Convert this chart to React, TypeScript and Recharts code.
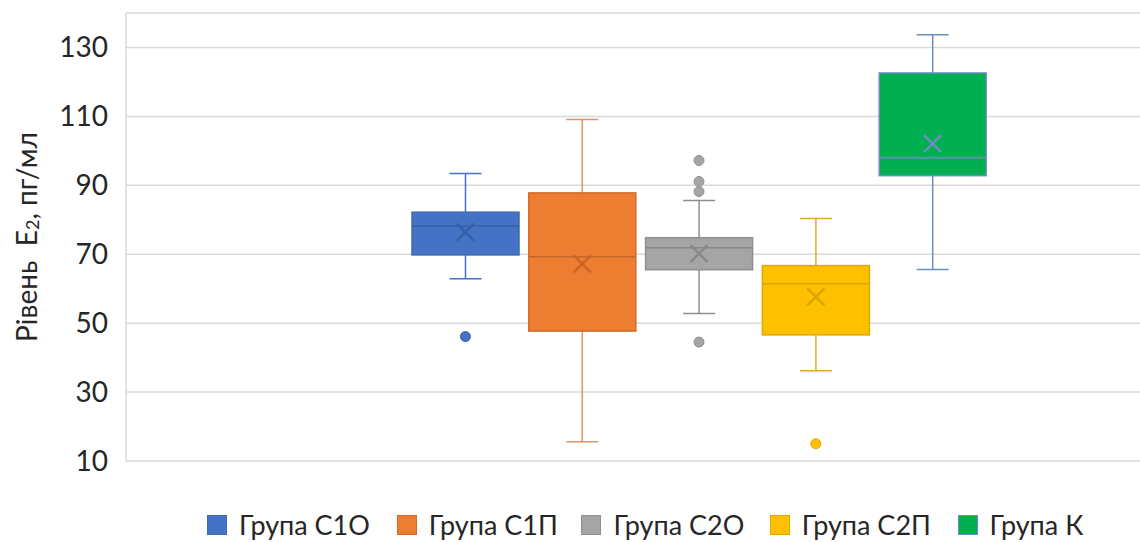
import React from 'react';
import { ComposedChart, Bar, Scatter, XAxis, YAxis, CartesianGrid, Legend, Label } from 'recharts';

const groups = ['Група С1О', 'Група С1П', 'Група С2О', 'Група С2П', 'Група К'];
const whiskerLow = [62.9, 15.6, 52.8, 36.2, 65.6];
const q1Values = [69.8, 47.7, 65.5, 46.6, 92.8];
const medianValues = [78.2, 69.3, 71.9, 61.4, 98.0];
const q3Values = [82.2, 87.8, 74.8, 66.7, 122.6];
const whiskerHigh = [93.4, 109.1, 85.6, 80.4, 133.7];
const meanValues = [76.4, 67.2, 70.2, 57.6, 102.1];
const outlierGroups = ['Група С1О', 'Група С2О', 'Група С2О', 'Група С2О', 'Група С2О', 'Група С2П'];
const outlierValues = [46.1, 97.2, 91.1, 88.2, 44.5, 15.0];
const yTicks = [10, 30, 50, 70, 90, 110, 130];

const fills = ['#4472C4', '#ED7D31', '#A5A5A5', '#FFC000', '#00B050'];
const boxStroke = ['#3F69B4', '#D5692A', '#8F8F8F', '#E0A800', '#6C8EBF'];
const whiskerStroke = ['#4472C4', '#DA9466', '#8F8F8F', '#DDAA2A', '#6C8EBF'];
const innerStroke = ['#3560A8', '#C8662A', '#888888', '#D9A300', '#6C8EBF'];
const outlierStroke = ['#3A64B0', '#D5692A', '#8F8F8F', '#E0A800', '#6C8EBF'];
const legendItemWidths = [189.7, 184.7, 188.4, 187.8, 140];

const FONT = 'Lato, "Open Sans", sans-serif';

const data = groups.map((name, i) => ({
  name,
  idx: i,
  range: [whiskerLow[i], whiskerHigh[i]],
  low: whiskerLow[i],
  high: whiskerHigh[i],
  q1: q1Values[i],
  q3: q3Values[i],
  median: medianValues[i],
  mean: meanValues[i],
}));

const outliers = outlierGroups.map((name, i) => ({
  name,
  idx: groups.indexOf(name),
  value: outlierValues[i],
}));

const BoxShape = (props: any) => {
  const { x, y, width, height, payload } = props;
  if (!payload) return null;
  const { low, high, q1, q3, median, idx } = payload;
  const py = (v: number) => y + ((high - v) / (high - low)) * height;
  const cx = x + width / 2;
  const cap = 16;
  const ws = whiskerStroke[idx];
  return (
    <g>
      <line x1={cx} x2={cx} y1={py(high)} y2={py(q3)} stroke={ws} strokeWidth={1.5} />
      <line x1={cx} x2={cx} y1={py(q1)} y2={py(low)} stroke={ws} strokeWidth={1.5} />
      <line x1={cx - cap} x2={cx + cap} y1={py(high)} y2={py(high)} stroke={ws} strokeWidth={1.5} />
      <line x1={cx - cap} x2={cx + cap} y1={py(low)} y2={py(low)} stroke={ws} strokeWidth={1.5} />
      <rect x={x} y={py(q3)} width={width} height={py(q1) - py(q3)} fill={fills[idx]} stroke={boxStroke[idx]} strokeWidth={1.5} />
      <line x1={x} x2={x + width} y1={py(median)} y2={py(median)} stroke={innerStroke[idx]} strokeWidth={1.5} />
    </g>
  );
};

const MeanShape = (props: any) => {
  const { cx, cy, payload } = props;
  if (cx == null || cy == null) return null;
  const s = 8.5;
  const c = innerStroke[payload.idx];
  return (
    <g>
      <line x1={cx - s} y1={cy - s} x2={cx + s} y2={cy + s} stroke={c} strokeWidth={2.5} />
      <line x1={cx - s} y1={cy + s} x2={cx + s} y2={cy - s} stroke={c} strokeWidth={2.5} />
    </g>
  );
};

const OutlierShape = (props: any) => {
  const { cx, cy, payload } = props;
  if (cx == null || cy == null) return null;
  return <circle cx={cx} cy={cy} r={5} fill={fills[payload.idx]} stroke={outlierStroke[payload.idx]} strokeWidth={1} />;
};

const YLabel = (props: any) => {
  const vb = props.viewBox || {};
  const cy = (vb.y || 0) + (vb.height || 0) / 2;
  const x = 26;
  return (
    <text
      x={x}
      y={cy}
      transform={`rotate(-90, ${x}, ${cy})`}
      textAnchor="middle"
      dominantBaseline="central"
      fill="#262626"
      fontSize={28}
      fontFamily={FONT}
    >
      <tspan>{'Рівень\u00A0 E'}</tspan>
      <tspan fontSize={18} dy={6}>2</tspan>
      <tspan dy={-6}>, пг/мл</tspan>
    </text>
  );
};

const LegendContent = () => (
  <div style={{ display: 'flex', alignItems: 'center', fontFamily: FONT, fontSize: 27, color: '#262626', whiteSpace: 'nowrap' }}>
    {groups.map((g, i) => (
      <div key={g} style={{ display: 'flex', alignItems: 'center', width: legendItemWidths[i], flex: 'none' }}>
        <span style={{ display: 'inline-block', width: 18, height: 18, background: fills[i], border: `1px solid ${boxStroke[i]}`, marginRight: 12, flex: 'none' }} />
        <span>{g}</span>
      </div>
    ))}
  </div>
);

export default function App() {
  return (
    <div style={{ position: 'absolute', left: 0, top: 0, width: 1140, height: 542, background: '#fff' }}>
      <ComposedChart width={1140} height={542} data={data} margin={{ top: 13, right: 0, bottom: 81, left: 0 }}>
        <CartesianGrid horizontal vertical={false} stroke="#D9D9D9" strokeWidth={1.5} />
        <XAxis
          dataKey="name"
          type="category"
          allowDuplicatedCategory={false}
          hide
          padding={{ left: 281, right: 149 }}
        />
        <YAxis
          type="number"
          domain={[10, 140]}
          ticks={yTicks}
          width={126}
          axisLine={{ stroke: '#D9D9D9', strokeWidth: 1.5 }}
          tickLine={false}
          tickSize={10}
          tickMargin={8}
          tick={{ fill: '#262626', fontSize: 28, fontFamily: FONT }}
          interval={0}
        >
          <Label content={YLabel} />
        </YAxis>
        <Bar dataKey="range" barSize={107} shape={BoxShape} isAnimationActive={false} />
        <Scatter data={data} dataKey="mean" shape={MeanShape} isAnimationActive={false} />
        <Scatter data={outliers} dataKey="value" shape={OutlierShape} isAnimationActive={false} />
        <Legend
          layout="horizontal"
          verticalAlign="middle"
          align="center"
          content={LegendContent}
          wrapperStyle={{ position: 'absolute', top: 508, left: 207, width: 'auto', height: 36 }}
        />
      </ComposedChart>
    </div>
  );
}
